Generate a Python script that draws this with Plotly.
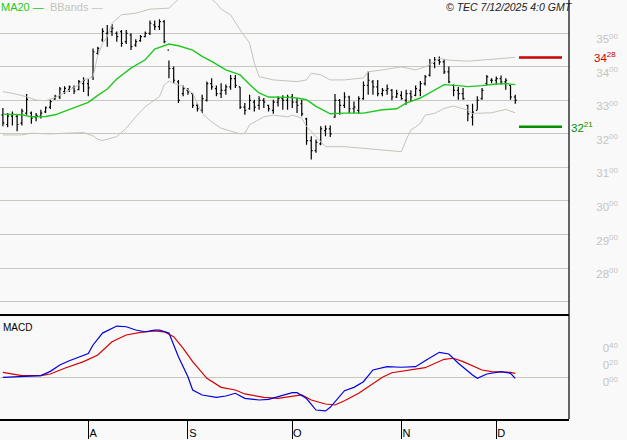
import plotly.graph_objects as go

# ---------------- data ----------------
bar_index = list(range(109))

opens = [3257,3228,3253,3252,3232,3262,3262,3250,3252,3266,
         3280,3304,3310,3326,3332,3338,3332,3350,3350,3370,
         3440,3480,3500,3505,3500,3505,3475,3495,3465,3478,
         3490,3500,3525,3520,3535,3450,3395,3355,3320,3330,
         3320,3285,3270,3300,3350,3335,3320,3330,3340,3365,
         3340,3280,3275,3295,3285,3300,3285,3270,3295,3305,
         3300,3310,3295,3290,3245,3180,3150,3170,3210,3215,
         3250,3300,3285,3310,3275,3270,3305,3345,3355,3340,
         3320,3330,3330,3310,3315,3300,3320,3315,3330,3350,
         3375,3410,3420,3415,3385,3345,3330,3320,3285,3250,
         3270,3305,3350,3360,3360,3365,3355,3345,3310]
highs = [3277,3262,3267,3257,3275,3319,3267,3262,3272,3282,
         3302,3317,3340,3342,3344,3344,3361,3369,3363,3455,
         3460,3515,3525,3528,3505,3510,3510,3500,3482,3495,
         3505,3538,3538,3542,3540,3419,3401,3361,3344,3337,
         3322,3292,3317,3356,3366,3344,3351,3347,3376,3376,
         3340,3292,3317,3302,3312,3307,3287,3302,3312,3315,
         3317,3319,3307,3302,3248,3193,3183,3223,3225,3225,
         3319,3304,3324,3314,3297,3312,3356,3386,3361,3361,
         3337,3347,3334,3332,3327,3332,3330,3344,3358,3376,
         3423,3429,3431,3423,3401,3347,3340,3337,3287,3290,
         3312,3337,3376,3366,3371,3374,3366,3345,3317]
lows = [3223,3220,3225,3208,3225,3257,3230,3238,3246,3262,
        3274,3302,3304,3319,3325,3319,3330,3325,3312,3361,
        3436,3475,3460,3492,3475,3460,3468,3450,3460,3475,
        3488,3495,3510,3510,3470,3366,3351,3292,3312,3317,
        3277,3267,3262,3297,3332,3312,3307,3317,3332,3337,
        3274,3257,3272,3267,3272,3277,3267,3260,3282,3272,
        3272,3277,3262,3253,3168,3124,3144,3166,3193,3191,
        3248,3257,3277,3262,3262,3260,3302,3317,3317,3312,
        3312,3317,3300,3307,3302,3287,3297,3312,3312,3344,
        3371,3396,3406,3379,3351,3312,3302,3302,3238,3225,
        3272,3302,3344,3351,3347,3347,3332,3302,3290]
closes = [3233,3253,3258,3228,3268,3303,3247,3255,3262,3278,
          3296,3312,3334,3336,3340,3328,3356,3360,3337,3445,
          3455,3506,3500,3515,3490,3470,3500,3460,3475,3490,
          3500,3530,3520,3535,3475,3395,3360,3300,3335,3325,
          3285,3275,3305,3350,3340,3320,3330,3340,3365,3345,
          3280,3270,3300,3280,3300,3295,3275,3295,3305,3300,
          3310,3295,3285,3260,3180,3150,3175,3215,3215,3200,
          3300,3285,3310,3275,3280,3305,3345,3360,3340,3320,
          3330,3335,3310,3320,3305,3320,3310,3335,3350,3370,
          3410,3420,3415,3385,3355,3330,3320,3305,3260,3265,
          3300,3330,3370,3360,3365,3355,3360,3310,3300]

ma20_x = [0,4,6,9,11,14,16,18,20,22,24,27,30,32,35,37,40,42,44,47,50,52,54,56,
          60,62,64,66,69,72,76,80,83,85,88,91,93,96,98,101,104,106,108]
ma20_y = [3259,3257,3251,3252,3257,3272,3282,3294,3315,3334,3364,3396,3421,3453,3468,
          3463,3450,3431,3416,3391,3376,3347,3322,3310,3309,3307,3302,3282,3260,3262,
          3262,3272,3275,3292,3307,3332,3347,3344,3341,3344,3349,3350,3347]

bb_up_x = [0,2,5,7,9,11,13,16,17,19,20,21,22,23,25,28,31,35,38,42,45,46,48,50,52,53,54,
           57,62,64,65,67,69,72,76,77,80,84,87,89,92,94,98,101,105,108]
bb_up_y = [3326,3321,3311,3301,3299,3309,3323,3346,3361,3370,3435,3470,3490,3530,3555,
           3560,3572,3575,3615,3625,3590,3572,3555,3510,3471,3411,3371,3361,3356,3361,
           3381,3376,3361,3361,3367,3385,3391,3400,3391,3400,3425,3420,3417,3420,3425,3428]

bb_lo_x = [0,4,6,10,13,17,19,20,21,24,26,28,30,33,34,35,36,38,40,42,44,46,50,51,52,55,57,
           60,61,63,64,66,67,68,72,79,84,85,86,87,88,89,91,93,95,98,99,103,106,108]
bb_lo_y = [3197,3197,3202,3200,3202,3204,3194,3184,3180,3192,3217,3251,3281,3311,3346,
           3358,3351,3341,3321,3261,3236,3217,3200,3202,3227,3251,3256,3251,3256,3247,
           3222,3192,3177,3162,3162,3152,3147,3182,3212,3221,3232,3256,3261,3276,3283,
           3271,3261,3263,3273,3263]

macd_x = [0,3,8,10,12,14,16,18,19,21,24,26,28,30,32,33,35,37,39,40,42,45,47,49,51,54,56,
          58,61,62,64,66,68,69,72,74,76,78,81,84,87,89,92,94,96,99,100,102,105,107,108]
macd_y = [0,0.01,0.02,0.07,0.145,0.195,0.235,0.28,0.38,0.52,0.603,0.595,0.556,0.536,0.556,
          0.556,0.52,0.242,0.007,-0.149,-0.208,-0.235,-0.22,-0.188,-0.247,-0.267,-0.259,
          -0.228,-0.181,-0.181,-0.25,-0.385,-0.396,-0.353,-0.157,-0.118,-0.052,0.086,0.125,
          0.118,0.125,0.195,0.294,0.274,0.165,0.027,-0.012,0.039,0.066,0.047,-0.012]

signal_x = [0,2,4,8,10,13,17,20,23,26,29,32,34,36,38,40,43,46,49,51,55,58,61,63,65,68,70,
            72,75,77,80,82,85,89,93,95,97,101,103,107,108]
signal_y = [0.059,0.039,0.019,0.019,0.039,0.106,0.184,0.262,0.419,0.498,0.529,0.545,0.535,
            0.478,0.341,0.184,-0.012,-0.118,-0.149,-0.196,-0.235,-0.247,-0.228,-0.208,-0.267,
            -0.314,-0.326,-0.275,-0.188,-0.11,0.0,0.054,0.078,0.113,0.212,0.224,0.184,0.086,
            0.066,0.059,0.047]

levels = [3428, 3221]
level_colors = ["#c80000", "#009000"]

month_ticks = [18, 39, 61, 84, 104]
month_labels = ["A", "S", "O", "N", "D"]

price_ticks = [2700, 2800, 2900, 3000, 3100, 3200, 3300, 3400, 3500]
macd_ticks = [0.0, 0.2, 0.4]

# ---------------- layout helpers ----------------
W, H = 627, 440
PLOT_W = 569
XD = PLOT_W / W
FONT = "Liberation Sans, Arial, sans-serif"
GRID = "#c8c8c0"
LABEL = "#c4c4c4"

def price_label(v):
    if v < 2800:
        return ""
    return f"{v // 100}<sup>{v % 100:02d}</sup>"

def macd_label(v):
    return f"{int(v)}<sup>{int(round(v * 100)) % 100:02d}</sup>"

fig = go.Figure()

fig.add_trace(go.Scatter(x=bb_up_x, y=bb_up_y, mode="lines",
                         line=dict(color="#c4c4bc", width=1), xaxis="x", yaxis="y",
                         showlegend=False, hoverinfo="skip"))
fig.add_trace(go.Scatter(x=bb_lo_x, y=bb_lo_y, mode="lines",
                         line=dict(color="#c4c4bc", width=1), xaxis="x", yaxis="y",
                         showlegend=False, hoverinfo="skip"))
fig.add_trace(go.Ohlc(x=bar_index, open=opens, high=highs, low=lows, close=closes,
                      increasing=dict(line=dict(color="black", width=1.2)),
                      decreasing=dict(line=dict(color="black", width=1.2)),
                      tickwidth=0.3, xaxis="x", yaxis="y", showlegend=False))
fig.add_trace(go.Scatter(x=ma20_x, y=ma20_y, mode="lines",
                         line=dict(color="#1ec81e", width=1.4), xaxis="x", yaxis="y",
                         showlegend=False, hoverinfo="skip"))

fig.add_trace(go.Scatter(x=signal_x, y=signal_y, mode="lines",
                         line=dict(color="#d40000", width=1.2), xaxis="x2", yaxis="y2",
                         showlegend=False))
fig.add_trace(go.Scatter(x=macd_x, y=macd_y, mode="lines",
                         line=dict(color="#0000e0", width=1.2), xaxis="x2", yaxis="y2",
                         showlegend=False))

x_range = [-2.9 / 4.744, (PLOT_W - 2.9) / 4.744]
price_dom = [(419 - 314) / 419, 1]
macd_dom = [0, (419 - 315) / 419]

fig.update_layout(
    template="none",
    width=W, height=H, autosize=False,
    margin=dict(l=0, r=0, t=0, b=21, pad=0, autoexpand=False),
    paper_bgcolor="#f9f9f9", plot_bgcolor="#f9f9f9",
    font=dict(family=FONT, size=11, color="black"),
    showlegend=False,
    xaxis=dict(domain=[0, XD], range=x_range, anchor="y", showgrid=False, zeroline=False,
               showticklabels=False, ticks="", showline=True, linecolor="black", linewidth=2,
               rangeslider=dict(visible=False), fixedrange=True, automargin=False),
    yaxis=dict(domain=price_dom, range=[2663, 3599.3], anchor="free", position=618 / W,
               side="left", showgrid=True, gridcolor=GRID, gridwidth=1, zeroline=False,
               tickvals=price_ticks, ticktext=[price_label(v) for v in price_ticks],
               ticks="", tickfont=dict(color=LABEL, size=11.5, family=FONT),
               ticklabelshift=6, showline=False, automargin=False),
    xaxis2=dict(domain=[0, XD], range=x_range, anchor="y2", showgrid=False, zeroline=False,
                showline=True, linecolor="black", linewidth=2,
                ticks="outside", ticklen=18, tickcolor="black", tickwidth=1,
                tickvals=month_ticks, ticktext=month_labels,
                tickfont=dict(color="black", size=11, family=FONT),
                ticklabelshift=5, ticklabelstandoff=-15, automargin=False),
    yaxis2=dict(domain=macd_dom, range=[-0.4906, 0.733], anchor="free", position=618 / W,
                side="left", showgrid=False, zeroline=True, zerolinecolor=GRID,
                zerolinewidth=1, tickvals=macd_ticks,
                ticktext=[macd_label(v) for v in macd_ticks], ticks="",
                tickfont=dict(color=LABEL, size=11.5, family=FONT),
                ticklabelshift=5, showline=False, automargin=False),
)

shapes = [dict(type="line", xref="paper", yref="paper", x0=XD, x1=XD, y0=0, y1=1,
               line=dict(color="black", width=1.2))]
annotations = []
for lv, col, side in zip(levels, level_colors, ["right", "left"]):
    shapes.append(dict(type="line", xref="paper", yref="y", x0=519 / W, x1=562 / W,
                       y0=lv, y1=lv, line=dict(color=col, width=2.5)))
    annotations.append(dict(xref="paper", yref="y", x=(617 if side == "right" else 570) / W,
                            xanchor=side, y=lv, yanchor="middle", showarrow=False,
                            text=f"{lv // 100}<sup>{lv % 100:02d}</sup>",
                            font=dict(color=col, size=11.5, family=FONT), borderpad=0))

annotations.append(dict(xref="paper", yref="paper", x=0, y=1, xanchor="left", yanchor="top",
                        showarrow=False, borderpad=0,
                        text='<span style="color:#1ec81e">MA20 —</span>  '
                             '<span style="color:#c4c4bc">BBands —</span>',
                        font=dict(size=11, family=FONT)))
annotations.append(dict(xref="paper", yref="paper", x=574 / W, y=1, xanchor="right",
                        yanchor="top", showarrow=False, borderpad=0,
                        text="<i>© TEC 7/12/2025 4:0 GMT</i>",
                        font=dict(size=10.5, family=FONT, color="#202020")))
annotations.append(dict(xref="paper", yref="paper", x=2 / W, y=(419 - 327.5) / 419,
                        xanchor="left", yanchor="middle", showarrow=False, borderpad=0,
                        text="MACD", font=dict(size=10, family=FONT, color="black")))

fig.update_layout(shapes=shapes, annotations=annotations)

fig.write_html("out.html",
               config={"displayModeBar": False},
               post_script="document.body.style.margin='0px';"
                           "document.body.style.padding='0px';"
                           "document.documentElement.style.overflow='hidden';")
